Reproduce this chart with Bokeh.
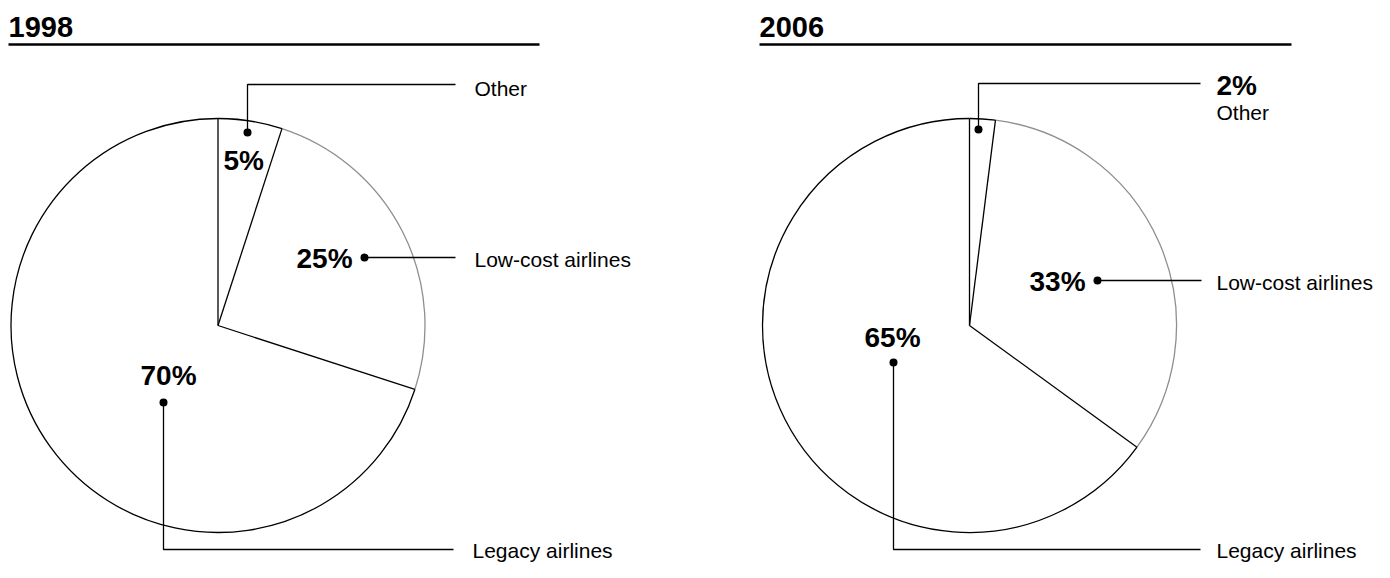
import math
from bokeh.plotting import figure
from bokeh.models import Range1d
from bokeh.core.properties import value
from bokeh.embed import file_html
from bokeh.resources import INLINE

# ---------------- data ----------------
years = ["1998", "2006"]
segments = ["Other", "Low-cost airlines", "Legacy airlines"]
shares_1998 = [5, 25, 70]
shares_2006 = [2, 33, 65]
pct_1998 = ["5%", "25%", "70%"]
pct_2006 = ["2%", "33%", "65%"]

# ---------------- layout (pixel coords, y downward) ----------------
W, H = 1374, 562
FONT = "Liberation Sans"
centers = [(217.5, 325), (969, 325)]
R = 207
arc_colors = ["black", "#8f8f8f", "black"]

title_pos = [(8, 26), (759, 26)]
underline = [((8, 539), 44), ((759, 1291), 44)]

# leader polylines per pie, per segment (first point = dot)
leaders = [
    [[(247, 132), (247, 84), (455, 84)],
     [(364, 257), (455, 257)],
     [(163, 402), (163, 549), (453, 549)]],
    [[(978, 129), (978, 83), (1200, 83)],
     [(1097, 280), (1201, 280)],
     [(893, 362), (893, 549), (1200, 549)]],
]
pct_pos = [
    [(223, 160), (296, 258), (140, 375)],
    [(1216, 85), (1029, 281), (864, 337)],
]
name_pos = [
    [(474, 88), (474, 259), (472, 550)],
    [(1216, 112), (1216, 282), (1216, 550)],
]

p = figure(width=W, height=H, output_backend="svg", toolbar_location=None,
           x_range=Range1d(0, W), y_range=Range1d(-H, 0),
           x_axis_type=None, y_axis_type=None, min_border=0,
           background_fill_color="white", border_fill_color="white",
           outline_line_color=None)
p.grid.visible = False

all_shares = [shares_1998, shares_2006]
all_pct = [pct_1998, pct_2006]

for k, (cx, cy) in enumerate(centers):
    shares = all_shares[k]
    total = float(sum(shares))
    p.circle(x=[cx], y=[-cy], radius=R, fill_color="white", line_color=None)
    cum = 0.0
    bounds = []
    for i, s in enumerate(shares):
        a0 = math.pi / 2 - 2 * math.pi * cum / total
        a1 = math.pi / 2 - 2 * math.pi * (cum + s) / total
        p.arc(x=[cx], y=[-cy], radius=R, start_angle=a0, end_angle=a1,
              direction="clock", line_color=arc_colors[i], line_width=1.3)
        bounds.append(a0)
        cum += s
    xs0, ys0, xs1, ys1 = [], [], [], []
    for a in bounds:
        xs0.append(cx); ys0.append(-cy)
        xs1.append(cx + R * math.cos(a)); ys1.append(-cy + R * math.sin(a))
    p.segment(x0=xs0, y0=ys0, x1=xs1, y1=ys1, line_color="black", line_width=1.3)

    mx = [[pt[0] for pt in ln] for ln in leaders[k]]
    my = [[-pt[1] for pt in ln] for ln in leaders[k]]
    p.multi_line(xs=mx, ys=my, line_color="black", line_width=1.3)
    p.scatter(x=[ln[0][0] for ln in leaders[k]], y=[-ln[0][1] for ln in leaders[k]],
              size=8, fill_color="black", line_color=None)

    p.text(x=[q[0] for q in pct_pos[k]], y=[-q[1] for q in pct_pos[k]], text=all_pct[k],
           text_font=value(FONT), text_font_style="bold", text_font_size="28px",
           text_baseline="middle", text_align="left", text_color="black")
    p.text(x=[q[0] for q in name_pos[k]], y=[-q[1] for q in name_pos[k]], text=segments,
           text_font=value(FONT), text_font_size="21px",
           text_baseline="middle", text_align="left", text_color="black")

    p.text(x=[title_pos[k][0]], y=[-title_pos[k][1]], text=[years[k]],
           text_font=value(FONT), text_font_style="bold", text_font_size="29px",
           text_baseline="middle", text_align="left", text_color="black")
    (ux0, ux1), uy = underline[k]
    p.segment(x0=[ux0], y0=[-uy], x1=[ux1], y1=[-uy], line_color="black", line_width=2.5)

open("out.html", "w").write(file_html(p, INLINE))
